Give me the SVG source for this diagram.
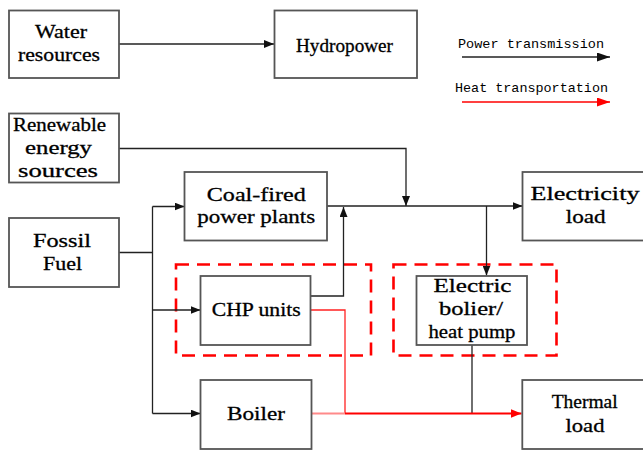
<svg xmlns="http://www.w3.org/2000/svg" width="643" height="451" viewBox="0 0 643 451">
<defs>
<style>
.box{fill:#fff;stroke:#555;stroke-width:1.8}
.grp{fill:none;stroke:#f00;stroke-width:2.6;stroke-dasharray:13 8}
.lbl{font-family:"Liberation Serif",serif;font-size:19px;fill:#000;stroke:#000;stroke-width:0.3;text-anchor:middle}
.leg{font-family:"Liberation Mono",monospace;font-size:13.5px;fill:#000}
.pw{fill:none;stroke:#222;stroke-width:1.3}
.ht{fill:none;stroke:#f00;stroke-width:2}
</style>
<marker id="ab" markerUnits="userSpaceOnUse" markerWidth="10" markerHeight="8" refX="10" refY="4" orient="auto"><path d="M0,0 L10,4 L0,8 z" fill="#111"/></marker>
<marker id="ar" markerUnits="userSpaceOnUse" markerWidth="11" markerHeight="9" refX="11" refY="4.5" orient="auto"><path d="M0,0 L11,4.5 L0,9 z" fill="#f00"/></marker>
<marker id="lb" markerUnits="userSpaceOnUse" markerWidth="13" markerHeight="9" refX="13" refY="4.5" orient="auto"><path d="M0,0 L13,4.5 L0,9 z" fill="#111"/></marker>
<marker id="lr" markerUnits="userSpaceOnUse" markerWidth="13" markerHeight="9" refX="13" refY="4.5" orient="auto"><path d="M0,0 L13,4.5 L0,9 z" fill="#f00"/></marker>
</defs>
<rect width="643" height="451" fill="#fff"/>

<g id="groups">
<rect class="grp" x="176" y="264.5" width="195" height="91"/>
<rect class="grp" x="393.5" y="264.5" width="163" height="91"/>
</g>

<g id="connectors">
<path class="pw" d="M119,44 H274" marker-end="url(#ab)"/>
<path class="pw" d="M119,148.5 H406 V206" marker-end="url(#ab)"/>
<path class="pw" d="M119,252.5 H152.5"/>
<path class="pw" d="M152.5,206.5 V413.5"/>
<path class="pw" d="M152.5,206.5 H184.5" marker-end="url(#ab)"/>
<path class="pw" d="M152.5,310 H200.5" marker-end="url(#ab)"/>
<path class="pw" d="M152.5,413.5 H200.5" marker-end="url(#ab)"/>
<path class="pw" d="M327,206 H522.5" marker-end="url(#ab)"/>
<path class="pw" d="M311,296 H343.5 V207" marker-end="url(#ab)"/>
<path class="pw" d="M486.5,206 V275.5" marker-end="url(#ab)"/>
<path class="pw" d="M472,345 V413.5"/>
<path fill="none" stroke="#f22" stroke-width="1.3" d="M311,310 H345 V413.5"/>
<path fill="none" stroke="#ff8a8a" stroke-width="2" d="M311.5,413.5 H345"/>
<path class="ht" d="M345,413.5 H521.5" marker-end="url(#ar)"/>
</g>

<g id="legend">
<text class="leg" x="458" y="47.7" textLength="146" lengthAdjust="spacingAndGlyphs">Power transmission</text>
<path class="pw" d="M462,57 H610" marker-end="url(#lb)"/>
<text class="leg" x="455" y="91.7" textLength="153" lengthAdjust="spacingAndGlyphs">Heat transportation</text>
<path fill="none" stroke="#f00" stroke-width="1.5" d="M462,102 H610" marker-end="url(#lr)"/>
</g>

<g id="water">
<rect class="box" x="9" y="10.5" width="110" height="67.5"/>
<text class="lbl" x="61" y="37.5" textLength="52" lengthAdjust="spacingAndGlyphs">Water</text>
<text class="lbl" x="59" y="60.5" textLength="82" lengthAdjust="spacingAndGlyphs">resources</text>
</g>
<g id="hydropower">
<rect class="box" x="274.5" y="10.5" width="142.5" height="67.5"/>
<text class="lbl" x="344.5" y="51.5" textLength="97" lengthAdjust="spacingAndGlyphs">Hydropower</text>
</g>
<g id="renewable">
<rect class="box" x="9" y="113.5" width="110" height="69"/>
<text class="lbl" x="59.5" y="130.5" textLength="93" lengthAdjust="spacingAndGlyphs">Renewable</text>
<text class="lbl" x="58.5" y="153.5" textLength="67" lengthAdjust="spacingAndGlyphs">energy</text>
<text class="lbl" x="58" y="176.5" textLength="80" lengthAdjust="spacingAndGlyphs">sources</text>
</g>
<g id="fossil">
<rect class="box" x="9" y="218" width="110" height="69"/>
<text class="lbl" x="62" y="247" textLength="58" lengthAdjust="spacingAndGlyphs">Fossil</text>
<text class="lbl" x="62.5" y="270" textLength="39" lengthAdjust="spacingAndGlyphs">Fuel</text>
</g>
<g id="coal">
<rect class="box" x="184.5" y="172" width="142.5" height="68.5"/>
<text class="lbl" x="256.3" y="200.5" textLength="99" lengthAdjust="spacingAndGlyphs">Coal-fired</text>
<text class="lbl" x="256.2" y="223" textLength="118" lengthAdjust="spacingAndGlyphs">power plants</text>
</g>
<g id="electricity">
<rect class="box" x="522.5" y="172" width="124" height="68.5"/>
<text class="lbl" x="585" y="200" textLength="109" lengthAdjust="spacingAndGlyphs">Electricity</text>
<text class="lbl" x="585.7" y="223.3" textLength="40" lengthAdjust="spacingAndGlyphs">load</text>
</g>
<g id="chp">
<rect class="box" x="200.5" y="276" width="110" height="69"/>
<text class="lbl" x="256.2" y="315.7" textLength="89" lengthAdjust="spacingAndGlyphs">CHP units</text>
</g>
<g id="electric-boiler">
<rect class="box" x="416.5" y="276" width="110.5" height="69"/>
<text class="lbl" x="472.5" y="292.3" textLength="78" lengthAdjust="spacingAndGlyphs">Electric</text>
<text class="lbl" x="471" y="315" textLength="64" lengthAdjust="spacingAndGlyphs">bolier/</text>
<text class="lbl" x="472" y="337.7" textLength="87" lengthAdjust="spacingAndGlyphs">heat pump</text>
</g>
<g id="boiler">
<rect class="box" x="200.5" y="380" width="111" height="69"/>
<text class="lbl" x="256" y="420" textLength="58" lengthAdjust="spacingAndGlyphs">Boiler</text>
</g>
<g id="thermal">
<rect class="box" x="522.3" y="380" width="124" height="69"/>
<text class="lbl" x="584.7" y="408.3" textLength="66" lengthAdjust="spacingAndGlyphs">Thermal</text>
<text class="lbl" x="585" y="431.7" textLength="39" lengthAdjust="spacingAndGlyphs">load</text>
</g>
</svg>
